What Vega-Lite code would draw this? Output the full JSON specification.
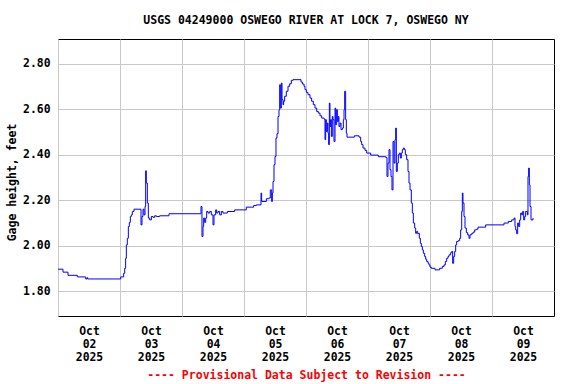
{
  "$schema": "https://vega.github.io/schema/vega-lite/v6.json",
  "width": 496,
  "height": 277,
  "autosize": {"type": "none"},
  "padding": {"left": 58, "top": 39, "right": 22, "bottom": 68},
  "background": "white",
  "title": {
    "text": "USGS 04249000 OSWEGO RIVER AT LOCK 7, OSWEGO NY",
    "font": "DejaVu Sans Mono",
    "fontWeight": "bold",
    "fontSize": 11.5,
    "color": "black",
    "anchor": "middle",
    "frame": "group",
    "baseline": "middle",
    "offset": 7
  },
  "config": {
    "view": {"stroke": "black", "strokeWidth": 1},
    "axis": {
      "labelFont": "DejaVu Sans Mono",
      "labelFontWeight": "bold",
      "labelFontSize": 11.4,
      "labelColor": "black",
      "titleFont": "DejaVu Sans Mono",
      "titleFontWeight": "bold",
      "titleFontSize": 11.5,
      "titleColor": "black",
      "gridColor": "#c8c8c8",
      "gridWidth": 1,
      "gridOpacity": 1,
      "domain": false,
      "ticks": false,
      "tickSize": 0
    }
  },
  "data": {
    "values": [
      {"t": "2025-10-02T00:00", "v": 1.897},
      {"t": "2025-10-02T01:56", "v": 1.884},
      {"t": "2025-10-02T03:52", "v": 1.870},
      {"t": "2025-10-02T07:29", "v": 1.863},
      {"t": "2025-10-02T10:43", "v": 1.854},
      {"t": "2025-10-02T11:14", "v": 1.860},
      {"t": "2025-10-02T11:29", "v": 1.854},
      {"t": "2025-10-03T00:00", "v": 1.854},
      {"t": "2025-10-03T00:16", "v": 1.863},
      {"t": "2025-10-03T01:25", "v": 1.879},
      {"t": "2025-10-03T01:49", "v": 1.901},
      {"t": "2025-10-03T02:11", "v": 1.945},
      {"t": "2025-10-03T02:27", "v": 2.004},
      {"t": "2025-10-03T02:50", "v": 2.033},
      {"t": "2025-10-03T03:14", "v": 2.085},
      {"t": "2025-10-03T03:37", "v": 2.103},
      {"t": "2025-10-03T04:00", "v": 2.129},
      {"t": "2025-10-03T04:23", "v": 2.136},
      {"t": "2025-10-03T04:46", "v": 2.151},
      {"t": "2025-10-03T05:25", "v": 2.161},
      {"t": "2025-10-03T08:08", "v": 2.092},
      {"t": "2025-10-03T08:31", "v": 2.129},
      {"t": "2025-10-03T08:54", "v": 2.161},
      {"t": "2025-10-03T09:17", "v": 2.136},
      {"t": "2025-10-03T09:41", "v": 2.173},
      {"t": "2025-10-03T09:56", "v": 2.330},
      {"t": "2025-10-03T10:11", "v": 2.276},
      {"t": "2025-10-03T10:35", "v": 2.188},
      {"t": "2025-10-03T10:58", "v": 2.122},
      {"t": "2025-10-03T11:29", "v": 2.114},
      {"t": "2025-10-03T12:08", "v": 2.129},
      {"t": "2025-10-03T12:46", "v": 2.125},
      {"t": "2025-10-03T13:25", "v": 2.132},
      {"t": "2025-10-03T14:04", "v": 2.129},
      {"t": "2025-10-03T15:21", "v": 2.132},
      {"t": "2025-10-03T18:58", "v": 2.141},
      {"t": "2025-10-04T07:21", "v": 2.173},
      {"t": "2025-10-04T07:44", "v": 2.041},
      {"t": "2025-10-04T08:08", "v": 2.085},
      {"t": "2025-10-04T08:23", "v": 2.122},
      {"t": "2025-10-04T08:46", "v": 2.103},
      {"t": "2025-10-04T09:10", "v": 2.122},
      {"t": "2025-10-04T09:33", "v": 2.151},
      {"t": "2025-10-04T10:04", "v": 2.144},
      {"t": "2025-10-04T10:43", "v": 2.151},
      {"t": "2025-10-04T11:21", "v": 2.136},
      {"t": "2025-10-04T12:00", "v": 2.092},
      {"t": "2025-10-04T12:23", "v": 2.136},
      {"t": "2025-10-04T13:02", "v": 2.158},
      {"t": "2025-10-04T13:25", "v": 2.144},
      {"t": "2025-10-04T13:56", "v": 2.151},
      {"t": "2025-10-04T14:35", "v": 2.136},
      {"t": "2025-10-04T15:14", "v": 2.151},
      {"t": "2025-10-04T15:52", "v": 2.144},
      {"t": "2025-10-04T17:33", "v": 2.151},
      {"t": "2025-10-04T20:23", "v": 2.158},
      {"t": "2025-10-05T00:54", "v": 2.170},
      {"t": "2025-10-05T03:44", "v": 2.177},
      {"t": "2025-10-05T04:46", "v": 2.180},
      {"t": "2025-10-05T06:35", "v": 2.232},
      {"t": "2025-10-05T06:50", "v": 2.195},
      {"t": "2025-10-05T08:39", "v": 2.207},
      {"t": "2025-10-05T09:33", "v": 2.210},
      {"t": "2025-10-05T10:11", "v": 2.246},
      {"t": "2025-10-05T10:43", "v": 2.195},
      {"t": "2025-10-05T10:58", "v": 2.232},
      {"t": "2025-10-05T11:14", "v": 2.283},
      {"t": "2025-10-05T11:37", "v": 2.357},
      {"t": "2025-10-05T12:00", "v": 2.393},
      {"t": "2025-10-05T12:23", "v": 2.474},
      {"t": "2025-10-05T12:46", "v": 2.493},
      {"t": "2025-10-05T13:10", "v": 2.569},
      {"t": "2025-10-05T13:33", "v": 2.599},
      {"t": "2025-10-05T13:49", "v": 2.709},
      {"t": "2025-10-05T14:04", "v": 2.606},
      {"t": "2025-10-05T14:27", "v": 2.716},
      {"t": "2025-10-05T14:43", "v": 2.643},
      {"t": "2025-10-05T15:06", "v": 2.621},
      {"t": "2025-10-05T15:21", "v": 2.636},
      {"t": "2025-10-05T15:44", "v": 2.658},
      {"t": "2025-10-05T16:23", "v": 2.680},
      {"t": "2025-10-05T17:02", "v": 2.702},
      {"t": "2025-10-05T17:41", "v": 2.713},
      {"t": "2025-10-05T18:19", "v": 2.728},
      {"t": "2025-10-05T18:58", "v": 2.731},
      {"t": "2025-10-05T22:04", "v": 2.721},
      {"t": "2025-10-05T22:35", "v": 2.712},
      {"t": "2025-10-05T23:14", "v": 2.702},
      {"t": "2025-10-05T23:37", "v": 2.687},
      {"t": "2025-10-06T00:08", "v": 2.675},
      {"t": "2025-10-06T00:46", "v": 2.665},
      {"t": "2025-10-06T01:33", "v": 2.650},
      {"t": "2025-10-06T02:11", "v": 2.636},
      {"t": "2025-10-06T02:50", "v": 2.621},
      {"t": "2025-10-06T03:29", "v": 2.606},
      {"t": "2025-10-06T04:08", "v": 2.591},
      {"t": "2025-10-06T04:46", "v": 2.584},
      {"t": "2025-10-06T05:25", "v": 2.572},
      {"t": "2025-10-06T06:04", "v": 2.562},
      {"t": "2025-10-06T06:58", "v": 2.558},
      {"t": "2025-10-06T07:21", "v": 2.467},
      {"t": "2025-10-06T07:37", "v": 2.555},
      {"t": "2025-10-06T07:52", "v": 2.503},
      {"t": "2025-10-06T08:16", "v": 2.540},
      {"t": "2025-10-06T08:31", "v": 2.496},
      {"t": "2025-10-06T08:46", "v": 2.445},
      {"t": "2025-10-06T09:02", "v": 2.628},
      {"t": "2025-10-06T09:17", "v": 2.525},
      {"t": "2025-10-06T09:33", "v": 2.555},
      {"t": "2025-10-06T09:49", "v": 2.481},
      {"t": "2025-10-06T10:11", "v": 2.569},
      {"t": "2025-10-06T10:27", "v": 2.555},
      {"t": "2025-10-06T10:50", "v": 2.459},
      {"t": "2025-10-06T11:14", "v": 2.606},
      {"t": "2025-10-06T11:29", "v": 2.533},
      {"t": "2025-10-06T11:52", "v": 2.599},
      {"t": "2025-10-06T12:08", "v": 2.547},
      {"t": "2025-10-06T12:31", "v": 2.569},
      {"t": "2025-10-06T12:46", "v": 2.525},
      {"t": "2025-10-06T13:10", "v": 2.540},
      {"t": "2025-10-06T13:33", "v": 2.511},
      {"t": "2025-10-06T14:04", "v": 2.518},
      {"t": "2025-10-06T14:27", "v": 2.555},
      {"t": "2025-10-06T14:43", "v": 2.599},
      {"t": "2025-10-06T14:58", "v": 2.680},
      {"t": "2025-10-06T15:21", "v": 2.555},
      {"t": "2025-10-06T15:37", "v": 2.496},
      {"t": "2025-10-06T15:52", "v": 2.478},
      {"t": "2025-10-06T18:43", "v": 2.484},
      {"t": "2025-10-06T20:31", "v": 2.478},
      {"t": "2025-10-06T21:10", "v": 2.459},
      {"t": "2025-10-06T21:33", "v": 2.445},
      {"t": "2025-10-06T22:04", "v": 2.430},
      {"t": "2025-10-06T22:50", "v": 2.420},
      {"t": "2025-10-06T23:29", "v": 2.408},
      {"t": "2025-10-07T01:02", "v": 2.399},
      {"t": "2025-10-07T04:00", "v": 2.392},
      {"t": "2025-10-07T06:50", "v": 2.389},
      {"t": "2025-10-07T07:21", "v": 2.305},
      {"t": "2025-10-07T07:44", "v": 2.364},
      {"t": "2025-10-07T08:08", "v": 2.423},
      {"t": "2025-10-07T08:31", "v": 2.335},
      {"t": "2025-10-07T08:54", "v": 2.305},
      {"t": "2025-10-07T09:17", "v": 2.246},
      {"t": "2025-10-07T09:41", "v": 2.459},
      {"t": "2025-10-07T10:04", "v": 2.364},
      {"t": "2025-10-07T10:27", "v": 2.467},
      {"t": "2025-10-07T10:43", "v": 2.518},
      {"t": "2025-10-07T10:58", "v": 2.327},
      {"t": "2025-10-07T11:21", "v": 2.364},
      {"t": "2025-10-07T11:44", "v": 2.401},
      {"t": "2025-10-07T12:08", "v": 2.408},
      {"t": "2025-10-07T12:31", "v": 2.386},
      {"t": "2025-10-07T12:54", "v": 2.408},
      {"t": "2025-10-07T13:17", "v": 2.423},
      {"t": "2025-10-07T13:41", "v": 2.430},
      {"t": "2025-10-07T14:04", "v": 2.423},
      {"t": "2025-10-07T14:27", "v": 2.401},
      {"t": "2025-10-07T14:58", "v": 2.379},
      {"t": "2025-10-07T15:29", "v": 2.327},
      {"t": "2025-10-07T15:52", "v": 2.276},
      {"t": "2025-10-07T16:16", "v": 2.246},
      {"t": "2025-10-07T16:46", "v": 2.188},
      {"t": "2025-10-07T17:10", "v": 2.144},
      {"t": "2025-10-07T17:33", "v": 2.100},
      {"t": "2025-10-07T18:04", "v": 2.078},
      {"t": "2025-10-07T18:27", "v": 2.055},
      {"t": "2025-10-07T18:50", "v": 2.063},
      {"t": "2025-10-07T19:14", "v": 2.053},
      {"t": "2025-10-07T19:37", "v": 2.055},
      {"t": "2025-10-07T19:52", "v": 2.033},
      {"t": "2025-10-07T20:16", "v": 2.011},
      {"t": "2025-10-07T20:39", "v": 1.997},
      {"t": "2025-10-07T21:02", "v": 1.982},
      {"t": "2025-10-07T21:25", "v": 1.967},
      {"t": "2025-10-07T21:56", "v": 1.953},
      {"t": "2025-10-07T22:19", "v": 1.941},
      {"t": "2025-10-07T22:43", "v": 1.931},
      {"t": "2025-10-07T23:14", "v": 1.923},
      {"t": "2025-10-07T23:37", "v": 1.916},
      {"t": "2025-10-08T00:00", "v": 1.906},
      {"t": "2025-10-08T00:31", "v": 1.901},
      {"t": "2025-10-08T01:56", "v": 1.894},
      {"t": "2025-10-08T03:44", "v": 1.901},
      {"t": "2025-10-08T04:46", "v": 1.909},
      {"t": "2025-10-08T05:25", "v": 1.916},
      {"t": "2025-10-08T05:56", "v": 1.931},
      {"t": "2025-10-08T06:27", "v": 1.945},
      {"t": "2025-10-08T06:58", "v": 1.953},
      {"t": "2025-10-08T07:21", "v": 1.960},
      {"t": "2025-10-08T08:00", "v": 1.970},
      {"t": "2025-10-08T08:23", "v": 1.975},
      {"t": "2025-10-08T08:46", "v": 1.923},
      {"t": "2025-10-08T09:10", "v": 1.953},
      {"t": "2025-10-08T09:33", "v": 1.975},
      {"t": "2025-10-08T09:56", "v": 2.004},
      {"t": "2025-10-08T10:19", "v": 2.019},
      {"t": "2025-10-08T10:58", "v": 2.023},
      {"t": "2025-10-08T11:29", "v": 2.033},
      {"t": "2025-10-08T11:52", "v": 2.070},
      {"t": "2025-10-08T12:16", "v": 2.151},
      {"t": "2025-10-08T12:31", "v": 2.232},
      {"t": "2025-10-08T12:46", "v": 2.188},
      {"t": "2025-10-08T13:10", "v": 2.129},
      {"t": "2025-10-08T13:33", "v": 2.078},
      {"t": "2025-10-08T14:04", "v": 2.058},
      {"t": "2025-10-08T14:35", "v": 2.048},
      {"t": "2025-10-08T15:06", "v": 2.033},
      {"t": "2025-10-08T15:29", "v": 2.048},
      {"t": "2025-10-08T16:00", "v": 2.053},
      {"t": "2025-10-08T16:39", "v": 2.060},
      {"t": "2025-10-08T17:17", "v": 2.070},
      {"t": "2025-10-08T17:56", "v": 2.073},
      {"t": "2025-10-08T18:35", "v": 2.082},
      {"t": "2025-10-08T21:33", "v": 2.092},
      {"t": "2025-10-09T04:39", "v": 2.100},
      {"t": "2025-10-09T06:19", "v": 2.107},
      {"t": "2025-10-09T07:37", "v": 2.114},
      {"t": "2025-10-09T08:31", "v": 2.122},
      {"t": "2025-10-09T08:54", "v": 2.085},
      {"t": "2025-10-09T09:10", "v": 2.070},
      {"t": "2025-10-09T09:33", "v": 2.053},
      {"t": "2025-10-09T09:56", "v": 2.100},
      {"t": "2025-10-09T10:19", "v": 2.085},
      {"t": "2025-10-09T10:43", "v": 2.114},
      {"t": "2025-10-09T11:06", "v": 2.144},
      {"t": "2025-10-09T11:29", "v": 2.136},
      {"t": "2025-10-09T11:52", "v": 2.151},
      {"t": "2025-10-09T12:16", "v": 2.114},
      {"t": "2025-10-09T12:39", "v": 2.129},
      {"t": "2025-10-09T13:02", "v": 2.151},
      {"t": "2025-10-09T13:41", "v": 2.136},
      {"t": "2025-10-09T13:56", "v": 2.305},
      {"t": "2025-10-09T14:11", "v": 2.342},
      {"t": "2025-10-09T14:27", "v": 2.268},
      {"t": "2025-10-09T14:43", "v": 2.173},
      {"t": "2025-10-09T15:06", "v": 2.114},
      {"t": "2025-10-09T15:52", "v": 2.122}
    ]
  },
  "mark": {"type": "line", "color": "#0000ff", "strokeWidth": 1, "interpolate": "step-after", "clip": true},
  "encoding": {
    "x": {
      "field": "t",
      "type": "temporal",
      "scale": {
        "domain": [
          {"year": 2025, "month": 10, "date": 2},
          {"year": 2025, "month": 10, "date": 10}
        ]
      },
      "axis": {
        "values": [
          {"year": 2025, "month": 10, "date": 2},
          {"year": 2025, "month": 10, "date": 3},
          {"year": 2025, "month": 10, "date": 4},
          {"year": 2025, "month": 10, "date": 5},
          {"year": 2025, "month": 10, "date": 6},
          {"year": 2025, "month": 10, "date": 7},
          {"year": 2025, "month": 10, "date": 8},
          {"year": 2025, "month": 10, "date": 9}
        ],
        "labelExpr": "[timeFormat(datum.value, '%b'), timeFormat(datum.value, '%d'), timeFormat(datum.value, '%Y')]",
        "labelOffset": 31,
        "labelPadding": 9,
        "labelLineHeight": 13,
        "labelAlign": "center",
        "labelBaseline": "top",
        "labelOverlap": false,
        "labelFlush": false,
        "title": "---- Provisional Data Subject to Revision ----",
        "titleColor": "#ff0000",
        "titleBaseline": "middle",
        "titleY": 59
      }
    },
    "y": {
      "field": "v",
      "type": "quantitative",
      "scale": {"domain": [1.691, 2.91], "nice": false, "zero": false},
      "axis": {
        "values": [1.8, 2.0, 2.2, 2.4, 2.6, 2.8],
        "format": ".2f",
        "labelPadding": 8,
        "title": "Gage height, feet",
        "titleAngle": 270,
        "titleAlign": "center",
        "titleBaseline": "middle",
        "titleX": -46,
        "titleY": 143
      }
    }
  }
}
